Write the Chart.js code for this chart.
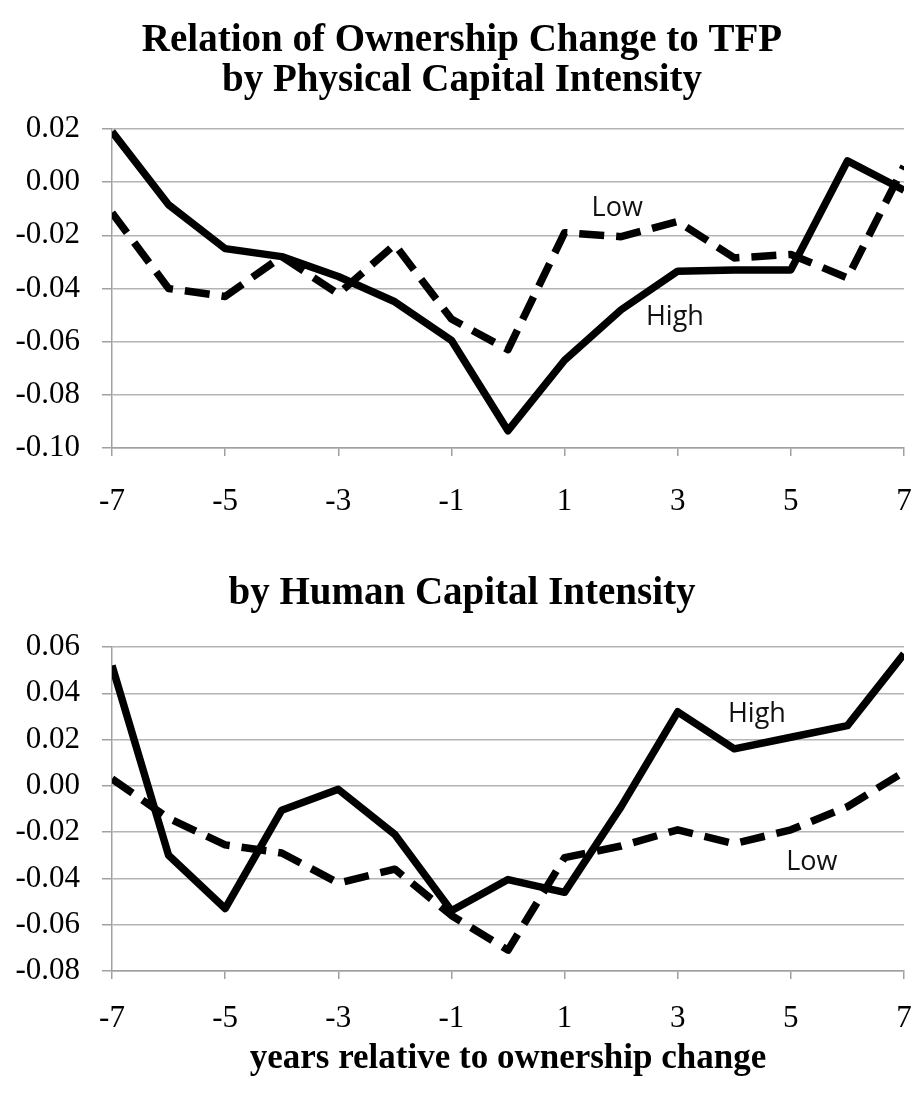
<!DOCTYPE html>
<html>
<head>
<meta charset="utf-8">
<script src="https://cdn.jsdelivr.net/npm/chart.js@4.4.1/dist/chart.umd.min.js"></script>
<style>
    html, body { margin: 0; padding: 0; background: #fff; }
    #wrap { position: relative; width: 914px; height: 1100px; }
    #wrap canvas { position: absolute; left: 0; }
</style>
</head>
<body>
<div id="wrap">
    <canvas id="physChart" width="914" height="540" style="top:0"></canvas>
    <canvas id="humanChart" width="914" height="560" style="top:540px"></canvas>
</div>
<script>
// years relative to ownership change
const years = [-7, -6, -5, -4, -3, -2, -1, 0, 1, 2, 3, 4, 5, 6, 7];

// by physical capital intensity
const physHigh = [0.019, -0.0085, -0.025, -0.028, -0.0355, -0.045, -0.0595, -0.0935, -0.067, -0.048, -0.0335, -0.033, -0.033, 0.008, -0.003];
const physLow = [-0.0115, -0.040, -0.043, -0.028, -0.042, -0.0235, -0.0515, -0.063, -0.019, -0.0205, -0.0148, -0.0285, -0.0272, -0.036, 0.006];

// by human capital intensity
const humanHigh = [0.052, -0.030, -0.053, -0.0105, -0.0015, -0.021, -0.054, -0.0405, -0.046, -0.009, 0.032, 0.016, 0.021, 0.026, 0.057];
const humanLow = [0.003, -0.014, -0.0255, -0.029, -0.042, -0.036, -0.056, -0.071, -0.031, -0.026, -0.019, -0.025, -0.019, -0.009, 0.006];

const physRange = [-0.10, 0.02];
const humanRange = [-0.08, 0.06];

const GRID = '#b4b4b4';
const AXIS = '#a0a0a0';
const TICK_FONT = { family: '"Liberation Serif", serif', size: 31 };

const toPoints = (vals) => years.map((x, i) => ({ x: x, y: vals[i] }));

const solidLine = (label, vals) => ({
    label: label,
    data: toPoints(vals),
    borderColor: '#000',
    borderWidth: 7.5,
    borderJoinStyle: 'round',
    pointRadius: 0,
    tension: 0,
    fill: false
});

const dashedLine = (label, vals) => ({
    ...solidLine(label, vals),
    borderDash: [25, 12]
});

// chart titles drawn over the canvas
const titleText = (lines, x, y, gap) => ({
    id: 'titleText',
    afterDraw(chart) {
        const ctx = chart.ctx;
        ctx.save();
        ctx.fillStyle = '#000';
        ctx.textAlign = 'center';
        ctx.textBaseline = 'alphabetic';
        ctx.font = 'bold 39px "Liberation Serif"';
        lines.forEach((t, i) => ctx.fillText(t, x, y + i * gap));
        ctx.restore();
    }
});

// "High" / "Low" tags placed in data space
const lineLabels = (items) => ({
    id: 'lineLabels',
    afterDatasetsDraw(chart) {
        const { ctx, scales } = chart;
        ctx.save();
        ctx.fillStyle = '#111';
        ctx.textAlign = 'center';
        ctx.textBaseline = 'middle';
        ctx.font = '27px "Open Sans"';
        items.forEach(it => {
            ctx.fillText(it.text, scales.x.getPixelForValue(it.x), scales.y.getPixelForValue(it.y));
        });
        ctx.restore();
    }
});

const makeOptions = (range, padTop, xHeight, xPad, axisTitle) => ({
    responsive: false,
    animation: false,
    devicePixelRatio: 1,
    layout: { padding: { top: padTop, right: 10, bottom: 0, left: 0 } },
    plugins: {
        legend: { display: false },
        tooltip: { enabled: false }
    },
    scales: {
        x: {
            type: 'linear',
            min: -7,
            max: 7,
            afterFit: (scale) => {
                scale.height = xHeight;
                scale.paddingLeft = 0;
                scale.paddingRight = 0;
            },
            ticks: {
                stepSize: 2,
                color: '#000',
                font: TICK_FONT,
                padding: xPad,
                maxRotation: 0,
                callback: (v) => String(v)
            },
            grid: {
                drawOnChartArea: false,
                drawTicks: true,
                tickLength: 8,
                color: AXIS,
                lineWidth: 1.5
            },
            border: { display: true, color: AXIS, width: 1.5 },
            title: axisTitle ? {
                display: true,
                text: axisTitle,
                color: '#000',
                font: { family: '"Liberation Serif", serif', size: 35, weight: 'bold' },
                padding: { top: 0, bottom: 20 }
            } : { display: false }
        },
        y: {
            min: range[0],
            max: range[1],
            afterFit: (scale) => { scale.width = 112; },
            ticks: {
                stepSize: 0.02,
                color: '#000',
                font: TICK_FONT,
                padding: 22,
                callback: (v) => (Math.abs(v) < 1e-9 ? 0 : v).toFixed(2)
            },
            grid: {
                color: GRID,
                lineWidth: 1.5,
                drawTicks: true,
                tickLength: 10,
                tickColor: AXIS
            },
            border: { display: true, color: AXIS, width: 1.5 }
        }
    }
});

new Chart(document.getElementById('physChart'), {
    type: 'line',
    data: {
        datasets: [
            solidLine('High', physHigh),
            dashedLine('Low', physLow)
        ]
    },
    options: makeOptions(physRange, 129, 92, 27, null),
    plugins: [
        titleText(['Relation of Ownership Change to TFP', 'by Physical Capital Intensity'], 462, 51, 40),
        lineLabels([
            { text: 'Low', x: 1.93, y: -0.0097 },
            { text: 'High', x: 2.95, y: -0.0507 }
        ])
    ]
});

new Chart(document.getElementById('humanChart'), {
    type: 'line',
    data: {
        datasets: [
            solidLine('High', humanHigh),
            dashedLine('Low', humanLow)
        ]
    },
    options: makeOptions(humanRange, 107, 129, 21, 'years relative to ownership change'),
    plugins: [
        titleText(['by Human Capital Intensity'], 462, 64, 40),
        lineLabels([
            { text: 'High', x: 4.4, y: 0.031 },
            { text: 'Low', x: 5.37, y: -0.033 }
        ])
    ]
});
</script>
</body>
</html>
